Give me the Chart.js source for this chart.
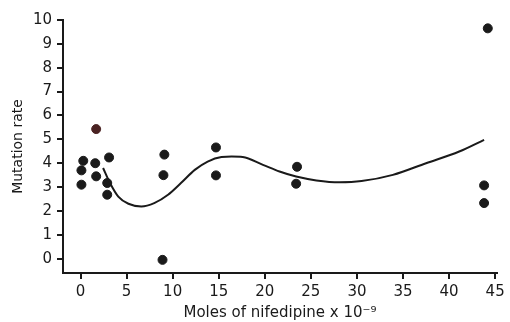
<!DOCTYPE html>
<html>
<head>
<meta charset="utf-8">
<script src="https://cdn.jsdelivr.net/npm/chart.js@4.4.0/dist/chart.umd.min.js"></script>
<style>
  html, body { margin: 0; padding: 0; background: #fff; }
  #wrap { width: 510px; height: 322px; }
</style>
</head>
<body>
<div id="wrap"><canvas id="c" width="510" height="322"></canvas></div>
<script>
// measured points (moles x 1e-9, mutation rate)
var pointX = [0.1, 0.1, 0.3, 1.6, 1.7, 2.9, 2.9, 3.1, 9.1, 9.0, 8.9, 14.7, 14.7, 23.5, 23.4, 44.2, 43.8, 43.8];
var pointY = [3.1, 3.7, 4.1, 4.0, 3.45, 3.17, 2.68, 4.24, 4.36, 3.5, -0.05, 4.66, 3.49, 3.85, 3.14, 9.65, 3.07, 2.33];
// the odd brownish point
var oddX = [1.7];
var oddY = [5.43];
// fitted curve
var curveX = [2.45, 3.2, 4.1, 5.2, 6.6, 8.0, 9.5, 10.9, 12.4, 13.8, 15.3, 16.4, 17.6, 19.8, 21.6, 23.4, 25.6, 28.1, 30.5, 33.9, 37.5, 41.1, 43.8];
var curveY = [3.8, 3.17, 2.6, 2.3, 2.19, 2.33, 2.68, 3.17, 3.72, 4.07, 4.26, 4.28, 4.26, 3.93, 3.65, 3.44, 3.28, 3.2, 3.25, 3.51, 4.0, 4.49, 4.98];
var xTicks = [0, 5, 10, 15, 20, 25, 30, 35, 40, 45];
var yTicks = [0, 1, 2, 3, 4, 5, 6, 7, 8, 9, 10];

function zip(xs, ys) {
  return xs.map(function(x, i) { return {x: x, y: ys[i]}; });
}

var font = "'DejaVu Sans', sans-serif";
var ink = '#1a1a1a';

new Chart(document.getElementById('c'), {
  type: 'scatter',
  data: {
    datasets: [
      {
        type: 'line',
        data: zip(curveX, curveY),
        borderColor: ink,
        borderWidth: 2,
        pointRadius: 0,
        tension: 0.4,
        cubicInterpolationMode: 'monotone',
        fill: false
      },
      {
        data: zip(pointX, pointY),
        backgroundColor: ink,
        borderColor: ink,
        pointRadius: 4.5
      },
      {
        data: zip(oddX, oddY),
        backgroundColor: '#4a2222',
        borderColor: '#4a2222',
        pointRadius: 4.5
      }
    ]
  },
  options: {
    responsive: false,
    animation: false,
    layout: { padding: { top: 20, right: 13, left: 0, bottom: 0 } },
    plugins: { legend: { display: false }, tooltip: { enabled: false } },
    scales: {
      x: {
        type: 'linear',
        min: -1.9,
        max: 45.2,
        afterBuildTicks: function(s) { s.ticks = xTicks.map(function(v) { return {value: v}; }); },
        afterFit: function(s) { s.height = 49; },
        border: { color: ink, width: 2 },
        grid: { drawOnChartArea: false, color: ink, tickLength: 6, lineWidth: 2 },
        ticks: { color: ink, font: { family: font, size: 15 }, padding: 4, maxRotation: 0 },
        title: {
          display: true,
          text: 'Moles of nifedipine x 10\u207B\u2079',
          color: ink,
          font: { family: font, size: 15 },
          padding: { top: 0, bottom: 0 }
        }
      },
      y: {
        min: -0.6,
        max: 10,
        afterBuildTicks: function(s) { s.ticks = yTicks.map(function(v) { return {value: v}; }); },
        afterFit: function(s) { s.width = 63; },
        border: { color: ink, width: 2 },
        grid: { drawOnChartArea: false, color: ink, tickLength: 6, lineWidth: 2 },
        ticks: { color: ink, font: { family: font, size: 15 }, padding: 5 },
        title: {
          display: true,
          text: 'Mutation rate',
          color: ink,
          font: { family: font, size: 14 },
          padding: { top: 10, bottom: 2 }
        }
      }
    }
  }
});
</script>
</body>
</html>
